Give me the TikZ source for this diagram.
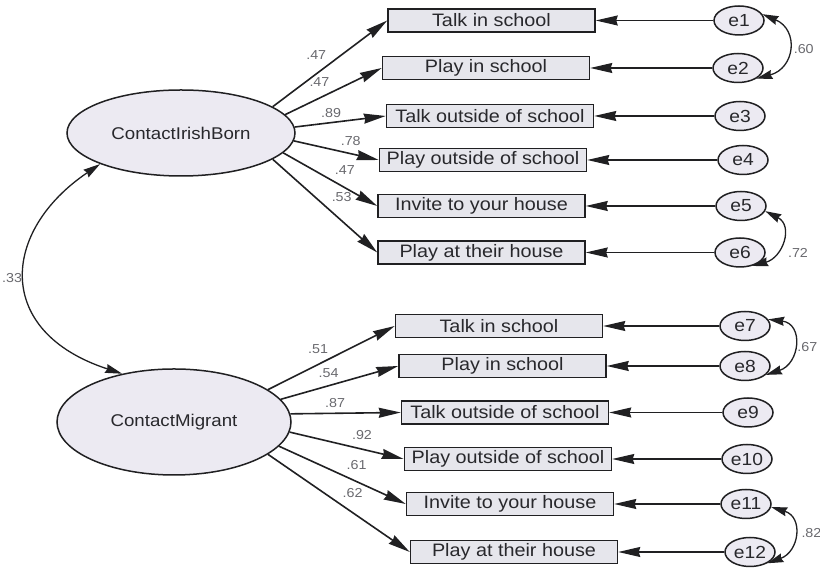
\documentclass[tikz,border=0pt]{standalone}
\usepackage{fontspec}
\setmainfont{Liberation Sans}[FakeStretch=1.1]
\usepackage{tikz}
\usetikzlibrary{arrows.meta, shapes.geometric}
\definecolor{inkdark}{RGB}{32, 32, 34}
\definecolor{latentbg}{RGB}{236, 234, 242}
\definecolor{boxbg}{RGB}{230, 230, 236}
\definecolor{textdark}{RGB}{40, 40, 44}
\definecolor{textmuted}{RGB}{105, 105, 110}

\begin{document}
\begin{tikzpicture}[
    x=1pt, y=1pt,
    >={Stealth[length=22pt, width=10pt, inset=1.5pt]},
    latent/.style={ellipse, draw=inkdark, fill=latentbg, line width=1.5pt, inner sep=0pt, text=textdark, font=\fontsize{17}{20}\selectfont},
    item/.style={rectangle, draw=inkdark, fill=boxbg, line width=1.5pt, minimum width=207pt, minimum height=23pt, inner sep=0pt, text=textdark, font=\fontsize{18}{20}\selectfont},
    resid/.style={ellipse, draw=inkdark, fill=latentbg, line width=1.5pt, minimum width=50pt, minimum height=29pt, inner sep=0pt, text=textdark, font=\fontsize{17.5}{20}\selectfont},
    coef/.style={inner sep=0pt, text=textmuted, font=\fontsize{13}{15}\selectfont}
]
    \useasboundingbox (0,0) rectangle (820,569);

    % latent factors
    \node[latent, minimum width=228pt, minimum height=86pt] (IB) at (181,436) {ContactIrishBorn};
    \node[latent, minimum width=234pt, minimum height=106pt] (MG) at (174,147) {ContactMigrant};

    % indicators, Irish born
    \node[item] (A1) at (491.5,548.5) {Talk in school};
    \node[item] (A2) at (486,501) {Play in school};
    \node[item] (A3) at (490,453) {Talk outside of school};
    \node[item] (A4) at (483,409) {Play outside of school};
    \node[item] (A5) at (481.5,363) {Invite to your house};
    \node[item] (A6) at (481.5,316.5) {Play at their house};

    % indicators, migrant
    \node[item] (B1) at (499,243) {Talk in school};
    \node[item] (B2) at (502.5,203) {Play in school};
    \node[item] (B3) at (505,156.5) {Talk outside of school};
    \node[item] (B4) at (508,110) {Play outside of school};
    \node[item] (B5) at (510,65) {Invite to your house};
    \node[item] (B6) at (514,17) {Play at their house};

    % residuals
    \node[resid] (e1) at (739,548.5) {e1};
    \node[resid] (e2) at (738,501) {e2};
    \node[resid] (e3) at (740,453) {e3};
    \node[resid] (e4) at (743,409) {e4};
    \node[resid] (e5) at (741,363) {e5};
    \node[resid] (e6) at (740,316.5) {e6};
    \node[resid] (e7) at (745,243) {e7};
    \node[resid] (e8) at (745,203) {e8};
    \node[resid] (e9) at (748,156.5) {e9};
    \node[resid] (e10) at (747,110) {e10};
    \node[resid] (e11) at (746,65) {e11};
    \node[resid] (e12) at (750,17) {e12};

    % loadings
    \draw[->, line width=1.6pt, color=inkdark] (IB.16) -- node[coef, pos=0.38, yshift=19pt] {.47} (A1.west);
    \draw[->, line width=1.6pt, color=inkdark] (IB.10) -- node[coef, pos=0.355, yshift=16pt] {.47} (A2.west);
    \draw[->, line width=1.6pt, color=inkdark] (IB.3) -- node[coef, pos=0.4, yshift=10pt] {.89} (A3.west);
    \draw[->, line width=1.6pt, color=inkdark] (IB.-4) -- node[coef, pos=0.67, yshift=12.3pt] {.78} (A4.west);
    \draw[->, line width=1.6pt, color=inkdark] (IB.-11) -- node[coef, pos=0.655, yshift=17.6pt] {.47} (A5.west);
    \draw[->, line width=1.6pt, color=inkdark] (IB.-16) -- node[coef, pos=0.66, yshift=23.3pt] {.53} (A6.west);

    \draw[->, line width=1.6pt, color=inkdark] (MG.19) -- node[coef, pos=0.395, yshift=15.7pt] {.51} (B1.west);
    \draw[->, line width=1.6pt, color=inkdark] (MG.12) -- node[coef, pos=0.407, yshift=12.9pt] {.54} (B2.west);
    \draw[->, line width=1.6pt, color=inkdark] (MG.4.5) -- node[coef, pos=0.405, yshift=9.9pt] {.87} (B3.west);
    \draw[->, line width=1.6pt, color=inkdark] (MG.-5) -- node[coef, pos=0.634, yshift=14.1pt] {.92} (B4.west);
    \draw[->, line width=1.6pt, color=inkdark] (MG.-13) -- node[coef, pos=0.612, yshift=16.5pt] {.61} (B5.west);
    \draw[->, line width=1.6pt, color=inkdark] (MG.-19) -- node[coef, pos=0.597, yshift=19.5pt] {.62} (B6.west);

    % residual paths
    \draw[->, line width=1.1pt, color=inkdark] (e1) -- (A1);
    \draw[->, line width=1.1pt, color=inkdark] (e2) -- (A2);
    \draw[->, line width=1.1pt, color=inkdark] (e3) -- (A3);
    \draw[->, line width=1.1pt, color=inkdark] (e4) -- (A4);
    \draw[->, line width=1.1pt, color=inkdark] (e5) -- (A5);
    \draw[->, line width=1.1pt, color=inkdark] (e6) -- (A6);
    \draw[->, line width=1.1pt, color=inkdark] (e7) -- (B1);
    \draw[->, line width=1.1pt, color=inkdark] (e8) -- (B2);
    \draw[->, line width=1.1pt, color=inkdark] (e9) -- (B3);
    \draw[->, line width=1.1pt, color=inkdark] (e10) -- (B4);
    \draw[->, line width=1.1pt, color=inkdark] (e11) -- (B5);
    \draw[->, line width=1.1pt, color=inkdark] (e12) -- (B6);

    % covariances
    \draw[<->, >={Stealth[length=17pt, width=9pt, inset=1.5pt]}, line width=1.3pt, color=inkdark] (IB.201) to[out=214, in=162, out distance=120pt, in distance=135pt] node[coef, pos=0.5, left=3pt] {.33} (MG.137);
    \draw[<->, >={Stealth[length=16pt, width=9pt, inset=1.5pt]}, line width=1.3pt, color=inkdark] (e1.15) to[out=-23, in=15, distance=40pt] node[coef, pos=0.5, xshift=16pt, yshift=-1pt] {.60} (e2.-30);
    \draw[<->, >={Stealth[length=16pt, width=9pt, inset=1.5pt]}, line width=1.3pt, color=inkdark] (e5.-12) to[out=-27, in=15, distance=32pt] node[coef, pos=0.5, xshift=17pt, yshift=-12pt] {.72} (e6.-48);
    \draw[<->, >={Stealth[length=16pt, width=9pt, inset=1.5pt]}, line width=1.3pt, color=inkdark] (e7.16) to[out=-7, in=18, distance=36pt] node[coef, pos=0.5, xshift=14pt, yshift=-2pt] {.67} (e8.-23);
    \draw[<->, >={Stealth[length=16pt, width=9pt, inset=1.5pt]}, line width=1.3pt, color=inkdark] (e11.-7) to[out=-17, in=20, distance=34pt] node[coef, pos=0.5, xshift=18pt, yshift=2pt] {.82} (e12.-33);
\end{tikzpicture}
\end{document}
